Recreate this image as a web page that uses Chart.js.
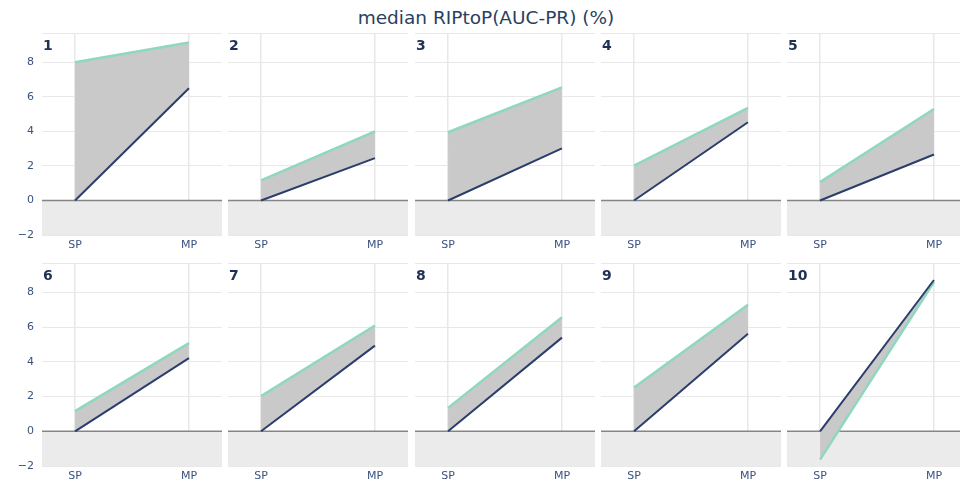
<!DOCTYPE html>
<html>
<head>
<meta charset="utf-8">
<script src="https://cdn.jsdelivr.net/npm/chart.js@4.4.1/dist/chart.umd.min.js"></script>
<style>
  html, body { margin: 0; padding: 0; background: #ffffff; }
  #wrap { position: relative; width: 960px; height: 486px; overflow: hidden; font-family: "DejaVu Sans", sans-serif; }
  canvas { position: absolute; }
  .title { position: absolute; left: 0; width: 972px; top: 7px; text-align: center; font-size: 18.5px; color: #2a3f5f; line-height: 22px; }
  .plab { position: absolute; font-size: 14px; font-weight: bold; color: #1f3055; line-height: 16px; }
</style>
</head>
<body>
<div id="wrap">
  <div class="title">median RIPtoP(AUC-PR) (%)</div>
</div>
<script>
// ---- data ----
const panelNames = ['1', '2', '3', '4', '5', '6', '7', '8', '9', '10'];
const categories = ['SP', 'MP'];
const lowerSP = [0, 0, 0, 0, 0, 0, 0, 0, 0, 0];
const lowerMP = [6.5, 2.45, 3.02, 4.53, 2.66, 4.22, 4.94, 5.4, 5.62, 8.72];
const upperSP = [8.0, 1.16, 3.95, 2.02, 1.06, 1.16, 2.03, 1.35, 2.52, -1.63];
const upperMP = [9.15, 4.0, 6.55, 5.36, 5.3, 5.08, 6.1, 6.57, 7.3, 8.6];
const yTicks = [-2, 0, 2, 4, 6, 8];
const yMin = -2, yMax = 9.7;
const xMin = -0.29, xMax = 1.29;

// ---- layout ----
const plotW = 180;
const colLeft = [42, 228, 415, 601, 787];
const rowTop = [33, 263];
const rowH = [202, 203];
const yAxisW = 42;
const xAxisH = 22;

const wrap = document.getElementById('wrap');

function fmtY(v) { return v < 0 ? '\u2212' + Math.abs(v) : String(v); }

panelNames.forEach((name, i) => {
  const r = Math.floor(i / 5), c = i % 5;
  const firstCol = c === 0;
  const left = firstCol ? colLeft[c] - yAxisW : colLeft[c];
  const width = firstCol ? plotW + yAxisW : plotW;
  const height = rowH[r] + xAxisH;

  const cv = document.createElement('canvas');
  cv.width = width; cv.height = height;
  cv.style.left = left + 'px'; cv.style.top = rowTop[r] + 'px';
  cv.style.width = width + 'px'; cv.style.height = height + 'px';
  wrap.appendChild(cv);

  const lab = document.createElement('div');
  lab.className = 'plab';
  lab.textContent = name;
  lab.style.left = (colLeft[c] + 1) + 'px';
  lab.style.top = (rowTop[r] + 4) + 'px';
  wrap.appendChild(lab);

  new Chart(cv.getContext('2d'), {
    type: 'line',
    data: {
      datasets: [
        { // zero line with shaded negative band
          data: [{ x: xMin, y: 0 }, { x: xMax, y: 0 }],
          borderColor: '#858585', borderWidth: 1.6,
          backgroundColor: '#ebebeb', fill: { value: yMin },
          pointRadius: 0, order: 3
        },
        { // lower (navy) line
          data: [{ x: 0, y: lowerSP[i] }, { x: 1, y: lowerMP[i] }],
          borderColor: '#2b3d6b', borderWidth: 2,
          pointRadius: 0, fill: false, order: 0
        },
        { // upper (green) line, filled down to the lower line
          data: [{ x: 0, y: upperSP[i] }, { x: 1, y: upperMP[i] }],
          borderColor: '#8ed8be', borderWidth: 2.5,
          backgroundColor: '#c9c9c9', fill: 1,
          pointRadius: 0, order: 1
        }
      ]
    },
    options: {
      responsive: false, animation: false,
      devicePixelRatio: 1,
      layout: { padding: 0 },
      plugins: { legend: { display: false }, tooltip: { enabled: false }, title: { display: false } },
      scales: {
        x: {
          type: 'linear', min: xMin, max: xMax,
          afterBuildTicks: (s) => { s.ticks = categories.map((_, k) => ({ value: k })); },
          afterFit: (s) => { s.height = xAxisH; s.paddingLeft = 0; s.paddingRight = 0; },
          ticks: {
            autoSkip: false, maxRotation: 0, padding: 4,
            color: '#3b5281', font: { family: 'DejaVu Sans', size: 11 },
            callback: (v) => categories[v]
          },
          grid: { color: '#e8e8e8', lineWidth: 1.5, drawTicks: false },
          border: { display: false }
        },
        y: {
          type: 'linear', min: yMin, max: yMax,
          afterBuildTicks: (s) => { s.ticks = yTicks.concat([yMax]).map(v => ({ value: v })); },
          afterFit: (s) => { s.width = firstCol ? yAxisW : 0; s.paddingTop = 0; s.paddingBottom = 0; },
          ticks: {
            display: firstCol, padding: 8, autoSkip: false,
            color: '#3b5281', font: { family: 'DejaVu Sans', size: 11 },
            callback: (v) => (yTicks.includes(v) ? fmtY(v) : '')
          },
          grid: { color: '#e8e8e8', lineWidth: 1, drawTicks: false },
          border: { display: false }
        }
      }
    }
  });
});
</script>
</body>
</html>
